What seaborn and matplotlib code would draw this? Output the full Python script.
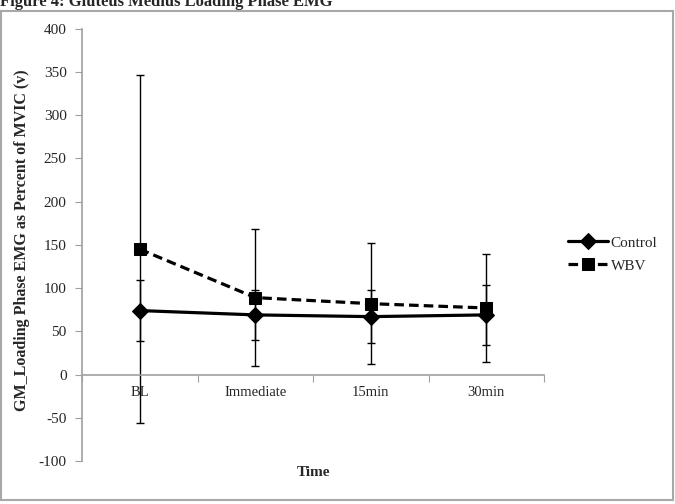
import numpy as np
import pandas as pd
import matplotlib
matplotlib.use("Agg")
import matplotlib.pyplot as plt
from matplotlib.patches import Rectangle
from matplotlib.ticker import FixedLocator, NullFormatter
import seaborn as sns

times = ["BL", "Immediate", "15min", "30min"]
control_mean = [74, 69, 67, 69]
control_sd = [35, 29, 31, 35]
wbv_mean = [145, 89, 82, 77]
wbv_sd = [201, 79, 70, 62]

df = pd.DataFrame({
    "Time": times * 2,
    "value": control_mean + wbv_mean,
    "group": ["Control"] * 4 + ["WBV"] * 4,
})

sns.set_style("white")
plt.rcParams["font.family"] = ["Liberation Serif", "DejaVu Serif"]

fig = plt.figure(figsize=(6.75, 5.04), dpi=100)
ax = fig.add_axes([0.1215, 0.0853, 0.806 - 0.1215, 0.943 - 0.0853])

# error bars first so lines/markers sit on top
xs = np.arange(len(times))
ax.errorbar(xs, wbv_mean, yerr=wbv_sd, fmt="none", ecolor="black", elinewidth=1, capsize=3, capthick=1, zorder=2)
ax.errorbar(xs, control_mean, yerr=control_sd, fmt="none", ecolor="black", elinewidth=1, capsize=3, capthick=1, zorder=2)

sns.lineplot(data=df, x="Time", y="value", hue="group", style="group",
             palette={"Control": "black", "WBV": "black"},
             markers={"Control": "D", "WBV": "s"},
             dashes={"Control": "", "WBV": (3, 1.6)},
             markersize=8.5, linewidth=2.3, markeredgecolor="black",
             sort=False, ax=ax, zorder=3)

ax.set_ylim(-100, 400)
ax.set_yticks(range(-100, 401, 50))
ax.set_yticklabels([str(v) for v in range(-100, 401, 50)], fontsize=11)
ax.set_xlim(-0.5, 3.5)

# x axis sits on y=0, ticks between the categories
ax.spines["bottom"].set_position(("data", 0))
ax.xaxis.set_major_locator(FixedLocator([-0.5, 0.5, 1.5, 2.5, 3.5]))
ax.xaxis.set_major_formatter(NullFormatter())
ax.xaxis.set_minor_locator(FixedLocator(xs))
ax.set_xticklabels(times, minor=True, fontsize=10.5)
ax.tick_params(axis="x", which="minor", length=0, pad=8)
ax.tick_params(axis="x", which="major", length=5, direction="out", color="#a0a0a0", bottom=True)
ax.tick_params(axis="y", length=5, direction="out", color="#a0a0a0", left=True, pad=6)

for s in ["top", "right"]:
    ax.spines[s].set_visible(False)
for s in ["left", "bottom"]:
    ax.spines[s].set_color("#a0a0a0")
    ax.spines[s].set_linewidth(1.2)

ax.set_xlabel("")
ax.set_ylabel("GM_Loading Phase EMG as Percent of MVIC (v)", fontsize=11.5, fontweight="bold")
ax.yaxis.set_label_coords(-0.112, 0.51)
fig.text(0.465, 0.063, "Time", fontsize=11, fontweight="bold", ha="center", va="center")

handles, labels = ax.get_legend_handles_labels()
ax.legend(handles, labels, loc="center left", bbox_to_anchor=(1.022, 0.478), frameon=False,
          fontsize=11, handlelength=2.6, handletextpad=0.2, labelspacing=0.6)

# figure caption (cut at the top) and chart frame
fig.text(0.0, 0.988, "Figure 4: Gluteus Medius Loading Phase EMG", fontsize=12,
         fontweight="bold", ha="left", va="baseline")
fig.patches.append(Rectangle((0.002, 0.008), 0.995, 0.97, transform=fig.transFigure,
                             fill=False, edgecolor="#a8a8a8", linewidth=1.5))

fig.savefig("out.png", dpi=100)
